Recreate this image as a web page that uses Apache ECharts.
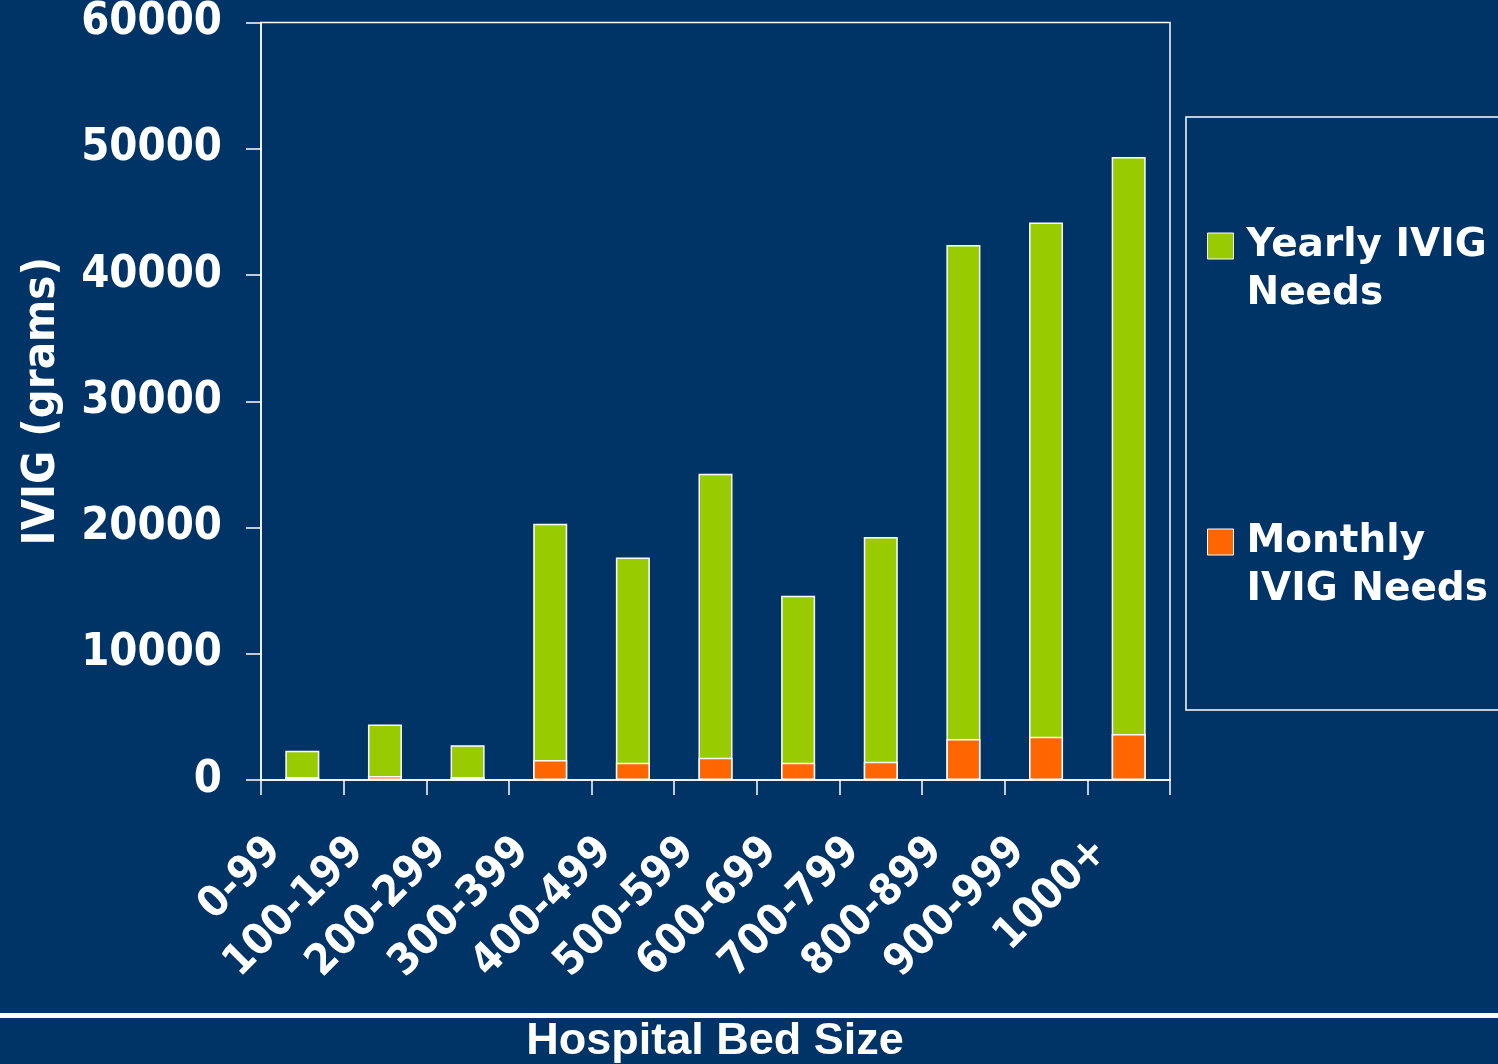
<!DOCTYPE html>
<html>
<head>
<meta charset="utf-8">
<script src="https://cdn.jsdelivr.net/npm/echarts@6/dist/echarts.min.js"></script>
<style>
html,body{margin:0;padding:0;background:#003366;}
#chart{width:1498px;height:1064px;}
</style>
</head>
<body>
<div id="chart"></div>
<script>
const categories = ['0-99','100-199','200-299','300-399','400-499','500-599','600-699','700-799','800-899','900-999','1000+'];
const yearlyNeeds = [2320, 4400, 2750, 20300, 17620, 24260, 14600, 19240, 42380, 44150, 49350];
const monthlyNeeds = [240, 320, 240, 1580, 1370, 1760, 1370, 1450, 3250, 3430, 3640];
const yTicks = [0, 10000, 20000, 30000, 40000, 50000, 60000];

const FONT = "'DejaVu Sans Condensed', 'Open Sans', sans-serif";
const FONT_WIDE = "'DejaVu Sans', 'Open Sans', sans-serif";
const chart = echarts.init(document.getElementById('chart'));
chart.setOption({
  backgroundColor: '#003366',
  animation: false,
  grid: { left: 261, right: 328, top: 22, bottom: 284, show: true, borderColor: '#ffffff', borderWidth: 1.5 },
  legend: {
    orient: 'vertical', left: 1207, top: 174, padding: 0, itemGap: 152,
    itemWidth: 26, itemHeight: 26,
    textStyle: { color: '#ffffff', fontSize: 39, fontWeight: 'bold', fontFamily: FONT_WIDE, lineHeight: 48, padding: [0,0,0,8] },
    formatter: function (n) { return n === 'Yearly IVIG Needs' ? '\nYearly IVIG\nNeeds' : '\nMonthly\nIVIG Needs'; },
    data: [
      { name: 'Yearly IVIG Needs', icon: 'rect', itemStyle: { borderColor: '#ffffff', borderWidth: 1 } },
      { name: 'Monthly IVIG Needs', icon: 'rect', itemStyle: { borderColor: '#ffffff', borderWidth: 1 } }
    ]
  },
  xAxis: {
    type: 'category', data: categories,
    axisLine: { lineStyle: { color: '#ffffff', width: 1.5 } },
    axisTick: { show: true, length: 15, alignWithLabel: false, lineStyle: { color: '#ffffff', width: 1.5 } },
    axisLabel: { color: '#ffffff', fontSize: 43, fontWeight: 'bold', fontFamily: FONT, rotate: 45, margin: 37, interval: 0, padding: [0,39,0,0] }
  },
  yAxis: {
    type: 'value', min: 0, max: 60000, interval: 10000,
    name: 'IVIG (grams)', nameLocation: 'middle', nameGap: 196,
    nameTextStyle: { color: '#ffffff', fontSize: 45, fontWeight: 'bold', fontFamily: FONT },
    splitLine: { show: false },
    axisLine: { show: true, lineStyle: { color: '#ffffff', width: 1.5 } },
    axisTick: { show: true, length: 15, lineStyle: { color: '#ffffff', width: 1.5 } },
    axisLabel: { color: '#ffffff', fontSize: 45, fontWeight: 'bold', fontFamily: FONT, margin: 39,
      formatter: function (v) { return yTicks.indexOf(v) >= 0 ? String(v) : ''; } }
  },
  series: [
    { name: 'Yearly IVIG Needs', type: 'bar', data: yearlyNeeds, barWidth: 34, barGap: '-100%',
      itemStyle: { color: '#99CC00', borderColor: '#ffffff', borderWidth: 1.5 } },
    { name: 'Monthly IVIG Needs', type: 'bar', data: monthlyNeeds, barWidth: 34, barGap: '-100%',
      itemStyle: { color: '#FF6600', borderColor: '#ffffff', borderWidth: 1.5 } }
  ],
  graphic: [
    { type: 'rect', shape: { x: 1186, y: 117, width: 400, height: 593 }, style: { fill: 'none', stroke: '#ffffff', lineWidth: 1.5 } },
    { type: 'rect', shape: { x: 0, y: 1013, width: 1498, height: 5 }, style: { fill: '#ffffff' } },
    { type: 'text', x: 715, y: 1042, style: { text: 'Hospital Bed Size', fill: '#ffffff', font: "bold 45px 'Liberation Sans', Arial, sans-serif", align: 'center', verticalAlign: 'middle' } }
  ]
});
</script>
</body>
</html>
